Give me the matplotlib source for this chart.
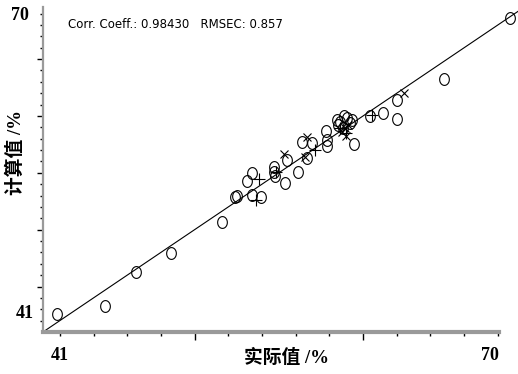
import numpy as np
import matplotlib
matplotlib.use("Agg")
import matplotlib.pyplot as plt
from matplotlib.path import Path

circle_x = [41.81, 44.70, 46.52, 48.58, 51.61, 52.40, 52.54, 53.10, 53.39, 53.39,
            53.93, 54.72, 54.72, 54.78, 55.37, 55.51, 56.12, 56.36, 56.66, 56.96,
            57.81, 57.85, 57.85, 58.44, 58.64, 59.03, 59.23, 58.81, 58.52, 59.35,
            58.87, 59.47, 60.42, 61.21, 62.00, 62.00, 64.83, 68.73]
circle_y = [42.56, 43.32, 46.31, 47.98, 50.71, 52.91, 52.97, 54.29, 55.02, 53.06,
            52.91, 55.55, 55.11, 54.73, 54.09, 56.14, 55.11, 57.70, 56.29, 57.61,
            58.69, 57.90, 57.40, 59.66, 59.49, 59.84, 59.40, 58.96, 59.22, 59.66,
            60.01, 57.55, 60.01, 60.30, 61.42, 59.75, 63.27, 68.61]

plus_x = [53.84, 53.65, 54.84, 57.15, 58.64, 59.00, 60.52]
plus_y = [54.47, 52.62, 55.08, 57.02, 58.96, 58.50, 60.10]

cross_x = [55.31, 56.69, 56.56, 58.90, 59.10, 58.75, 58.99, 62.44]
cross_y = [56.67, 58.19, 56.40, 58.96, 59.20, 58.60, 58.25, 62.01]

x_ticks = np.arange(42, 69, 2)
x_major = [50, 60]
y_ticks = np.arange(42, 70, 1)
y_major = [45, 50, 55, 60, 65]

stats_text = "Corr. Coeff.: 0.98430   RMSEC: 0.857"

# slightly tall ellipse marker
t = np.linspace(0, 2 * np.pi, 60)
ellipse = Path(np.column_stack([0.82 * np.cos(t), np.sin(t)]), closed=True)

fig = plt.figure(figsize=(5.18, 3.74), dpi=100)
ax = fig.add_axes([43 / 518, 42 / 374, 475 / 518, 332 / 374])
ax.set_xlim(41, 69.2)
ax.set_ylim(41, 70.2)

ax.plot([41, 70.5], [41, 70.5], color='black', lw=0.8, zorder=1)
ax.plot(circle_x, circle_y, linestyle='none', marker=ellipse, markersize=8.5,
        markerfacecolor='none', markeredgecolor='black', markeredgewidth=0.8, zorder=2)
ax.plot(plus_x, plus_y, linestyle='none', marker='+', markersize=8,
        color='black', markeredgewidth=0.8, zorder=3)
ax.plot(cross_x, cross_y, linestyle='none', marker='x', markersize=6,
        color='black', markeredgewidth=0.8, zorder=3)

for s in ['top', 'right']:
    ax.spines[s].set_visible(False)
ax.spines['bottom'].set_color('#9a9a9a')
ax.spines['bottom'].set_linewidth(3)
ax.spines['bottom'].set_bounds(41, 68.1)
ax.spines['left'].set_color('#9a9a9a')
ax.spines['left'].set_linewidth(1.6)
ax.spines['left'].set_bounds(41, 69.6)

ax.set_xticks([v for v in x_ticks if v not in x_major], minor=True)
ax.set_xticks(x_major)
ax.set_yticks([v for v in y_ticks if v not in y_major], minor=True)
ax.set_yticks(y_major)
ax.set_xticklabels([])
ax.set_yticklabels([])
ax.tick_params(axis='x', which='major', length=6, width=1, color='black', direction='out')
ax.tick_params(axis='x', which='minor', length=3, width=1, color='black', direction='out')
ax.tick_params(axis='y', which='major', length=4.5, width=1, color='black', direction='out')
ax.tick_params(axis='y', which='minor', length=2.5, width=1, color='black', direction='out')

serif = ['Liberation Serif', 'Noto Sans CJK SC']
num_kw = dict(family=serif, weight='bold', fontsize=13, ha='center', va='center')
fig.text(60 / 518, 1 - 356 / 374, "41", **num_kw)
fig.text(490 / 518, 1 - 356 / 374, "70", **num_kw)
fig.text(20 / 518, 1 - 15 / 374, "70", **num_kw)
fig.text(25 / 518, 1 - 313 / 374, "41", **num_kw)
fig.text(287 / 518, 1 - 358 / 374, "实际值 /%", family=serif, weight='bold', fontsize=13.5,
         ha='center', va='center')
fig.text(16 / 518, 1 - 152 / 374, "计算值 /%", family=serif, weight='bold', fontsize=13.5,
         ha='center', va='center', rotation=90)

fig.text(68 / 518, 1 - 24 / 374, stats_text, family='DejaVu Sans',
         fontsize=8.5, ha='left', va='center')

fig.savefig("out.png", dpi=100)
